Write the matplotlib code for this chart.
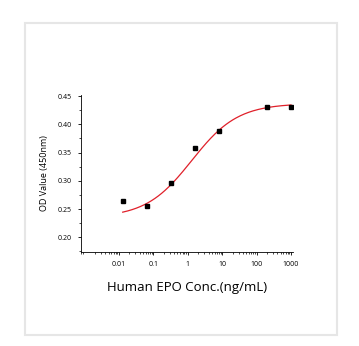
import numpy as np
import matplotlib
matplotlib.use('Agg')
import matplotlib.pyplot as plt
from matplotlib.ticker import LogLocator, MultipleLocator, FixedLocator, FixedFormatter
from matplotlib.patches import Rectangle

# measured points
conc = [0.0128, 0.064, 0.32, 1.6, 8, 200, 1000]
od = [0.2646, 0.2563, 0.296, 0.359, 0.388, 0.4305, 0.4305]

# 4-parameter logistic fit (bottom, top, EC50, hill)
fit_bottom = 0.235
fit_top = 0.437
fit_ec50 = 1.3
fit_hill = 0.65

xticks = [0.01, 0.1, 1, 10, 100, 1000]
xtick_labels = ['0.01', '0.1', '1', '10', '100', '1000']
yticks = [0.20, 0.25, 0.30, 0.35, 0.40, 0.45]

plt.rcParams['font.family'] = ['Open Sans', 'DejaVu Sans']

fig = plt.figure(figsize=(3.59, 3.46), dpi=100)
fig.patches.append(Rectangle((25 / 359, 1 - 335 / 346), 312 / 359, 312 / 346,
                             transform=fig.transFigure, fill=False,
                             edgecolor='#e6e6e6', linewidth=1.5))

ax = fig.add_axes([81 / 359, 1 - 252 / 346, 212 / 359, 157 / 346])

xs = np.logspace(np.log10(conc[0]), np.log10(conc[-1]), 200)
ys = fit_top + (fit_bottom - fit_top) / (1 + (xs / fit_ec50) ** fit_hill)
ax.plot(xs, ys, color='#e0202a', linewidth=0.9)
ax.plot(conc, od, linestyle='none', marker='s', markersize=2.6, color='black')

ax.set_xscale('log')
ax.set_xlim(7.85e-4, 1140)
ax.set_ylim(0.174, 0.452)

ax.xaxis.set_major_locator(FixedLocator(xticks))
ax.xaxis.set_major_formatter(FixedFormatter(xtick_labels))
ax.xaxis.set_minor_locator(LogLocator(base=10, subs=np.arange(2, 10)))
ax.xaxis.set_minor_formatter(plt.NullFormatter())
ax.yaxis.set_major_locator(FixedLocator(yticks))
ax.yaxis.set_major_formatter(FixedFormatter(['%.2f' % v for v in yticks]))
ax.yaxis.set_minor_locator(MultipleLocator(0.025))

for s in ['top', 'right']:
    ax.spines[s].set_visible(False)
for s in ['left', 'bottom']:
    ax.spines[s].set_linewidth(0.6)

ax.tick_params(which='major', direction='out', length=2.5, width=0.6, labelsize=5, pad=4)
ax.tick_params(which='minor', direction='out', length=1.5, width=0.5)

ax.set_ylabel('OD Value (450nm)', fontsize=6.5, labelpad=6)
ax.set_xlabel('Human EPO Conc.(ng/mL)', fontsize=9.5, labelpad=9)

fig.savefig('out.png', dpi=100)
